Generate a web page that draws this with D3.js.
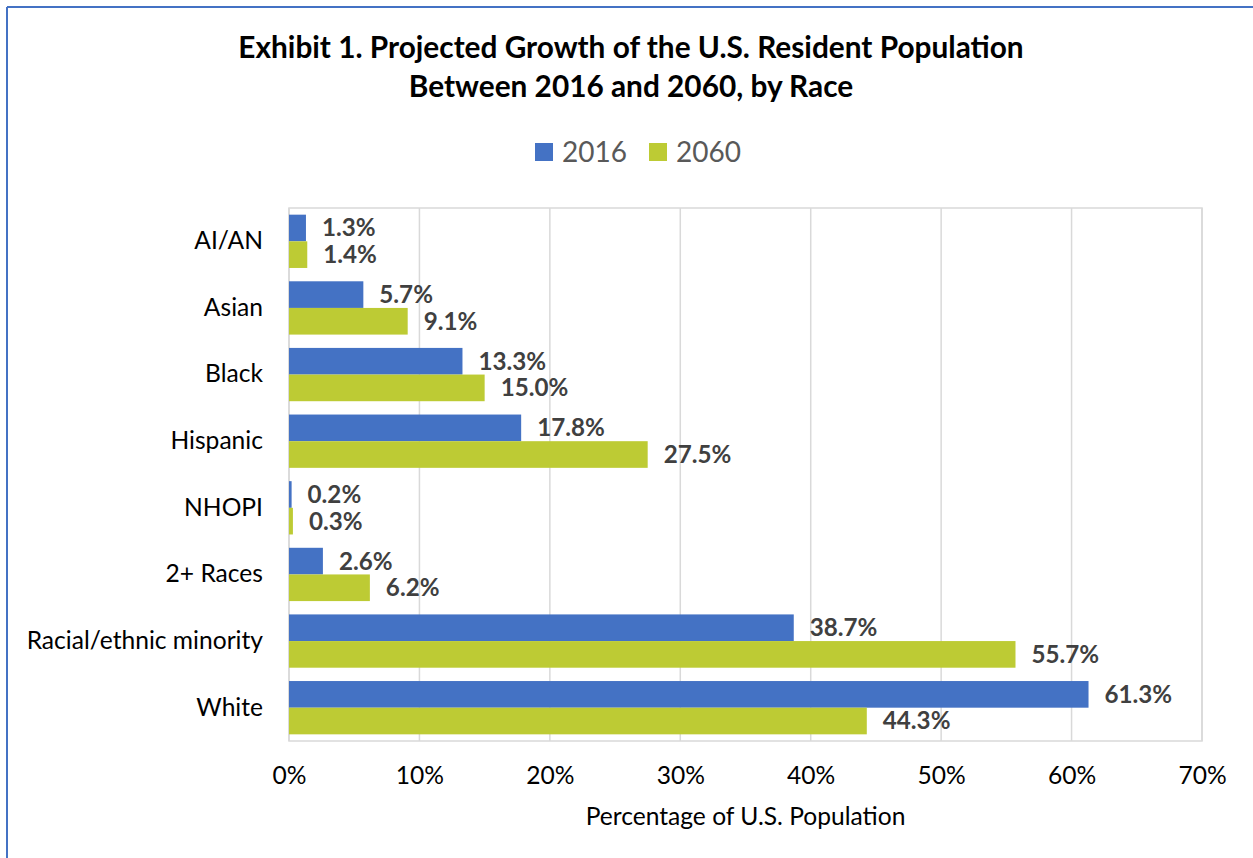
<!DOCTYPE html>
<html>
<head>
<meta charset="utf-8">
<script src="https://cdn.jsdelivr.net/npm/d3@7"></script>
<style>
  body { margin: 0; background: #fff; }
  svg { display: block; font-family: Lato, "Open Sans", sans-serif; }
</style>
</head>
<body>
<script>
// chart data
const categories = ["AI/AN", "Asian", "Black", "Hispanic", "NHOPI", "2+ Races", "Racial/ethnic minority", "White"];
const years = ["2016", "2060"];
const values2016 = [1.3, 5.7, 13.3, 17.8, 0.2, 2.6, 38.7, 61.3];
const values2060 = [1.4, 9.1, 15.0, 27.5, 0.3, 6.2, 55.7, 44.3];
const tickValues = [0, 10, 20, 30, 40, 50, 60, 70];
const colors = ["#4472C4", "#BDCB34"];

const w = 1253, h = 858;
const margin = {left: 289, right: 51, top: 208, bottom: 117};

const svg = d3.select("body").append("svg")
    .attr("width", w)
    .attr("height", h);

// outer frame (only left and top edges visible)
svg.append("line").attr("x1", 7).attr("y1", 7).attr("x2", 7).attr("y2", h)
    .attr("stroke", "#4472C4").attr("stroke-width", 2);
svg.append("line").attr("x1", 7).attr("y1", 7).attr("x2", w).attr("y2", 7)
    .attr("stroke", "#4472C4").attr("stroke-width", 2);

// title
const title = svg.append("text")
    .attr("text-anchor", "middle")
    .attr("font-weight", "bold")
    .attr("font-size", 29.8)
    .attr("fill", "#000");
title.append("tspan").attr("x", 631).attr("y", 58).text("Exhibit 1. Projected Growth of the U.S. Resident Population");
title.append("tspan").attr("x", 631).attr("y", 97).text("Between 2016 and 2060, by Race");

// legend
const legend = svg.append("g");
const legendX = [535, 649];
years.forEach((yr, i) => {
    legend.append("rect")
        .attr("x", legendX[i]).attr("y", 143)
        .attr("width", 18).attr("height", 18)
        .attr("fill", colors[i]);
    legend.append("text")
        .attr("x", legendX[i] + 27).attr("y", 162)
        .attr("font-size", 28)
        .attr("fill", "#595959")
        .text(yr);
});

const x = d3.scaleLinear()
    .domain([0, 70])
    .range([margin.left, w - margin.right]);

const y0 = d3.scaleBand()
    .domain(categories)
    .range([margin.top, h - margin.bottom])
    .paddingInner(0.2)
    .paddingOuter(0.1);

const y1 = d3.scaleBand()
    .domain(years)
    .range([0, y0.bandwidth()]);

// gridlines
svg.append("g")
    .selectAll("line")
    .data(tickValues)
    .join("line")
    .attr("x1", d => x(d)).attr("x2", d => x(d))
    .attr("y1", margin.top).attr("y2", h - margin.bottom)
    .attr("stroke", "#d9d9d9")
    .attr("stroke-width", 1.5);

// plot area border
svg.append("rect")
    .attr("x", margin.left).attr("y", margin.top)
    .attr("width", w - margin.right - margin.left)
    .attr("height", h - margin.bottom - margin.top)
    .attr("fill", "none")
    .attr("stroke", "#d9d9d9")
    .attr("stroke-width", 1.5);

// bars
const rows = categories.map((c, i) => ({cat: c, vals: [values2016[i], values2060[i]]}));

const groups = svg.append("g")
    .selectAll("g")
    .data(rows)
    .join("g")
    .attr("transform", d => `translate(0,${y0(d.cat)})`);

groups.selectAll("rect")
    .data(d => d.vals.map((v, i) => ({yr: years[i], v: v, i: i})))
    .join("rect")
    .attr("x", x(0))
    .attr("y", d => y1(d.yr))
    .attr("width", d => x(d.v) - x(0))
    .attr("height", y1.bandwidth())
    .attr("fill", d => colors[d.i]);

groups.selectAll("text")
    .data(d => d.vals.map((v, i) => ({yr: years[i], v: v, i: i})))
    .join("text")
    .attr("x", d => x(d.v) + 16)
    .attr("y", d => y1(d.yr) + y1.bandwidth() / 2)
    .attr("dy", "0.35em")
    .attr("font-size", 24.2)
    .attr("font-weight", "bold")
    .attr("fill", "#404040")
    .text(d => d.v.toFixed(1) + "%");

// category axis
const yAxis = svg.append("g")
    .attr("transform", `translate(${margin.left},0)`)
    .call(d3.axisLeft(y0).tickSize(0).tickPadding(26));
yAxis.select(".domain").remove();
yAxis.selectAll("text")
    .attr("font-size", 24.6)
    .attr("font-family", "Lato, sans-serif")
    .attr("fill", "#000");

// value axis
const xAxis = svg.append("g")
    .attr("transform", `translate(0,${h - margin.bottom})`)
    .call(d3.axisBottom(x).tickValues(tickValues).tickFormat(d => d + "%").tickSize(0).tickPadding(26));
xAxis.select(".domain").remove();
xAxis.selectAll("text")
    .attr("font-size", 24.6)
    .attr("font-family", "Lato, sans-serif")
    .attr("fill", "#000");

// axis title
svg.append("text")
    .attr("x", (x(0) + x(70)) / 2)
    .attr("y", 825)
    .attr("text-anchor", "middle")
    .attr("font-size", 24.6)
    .attr("fill", "#000")
    .text("Percentage of U.S. Population");
</script>
</body>
</html>
